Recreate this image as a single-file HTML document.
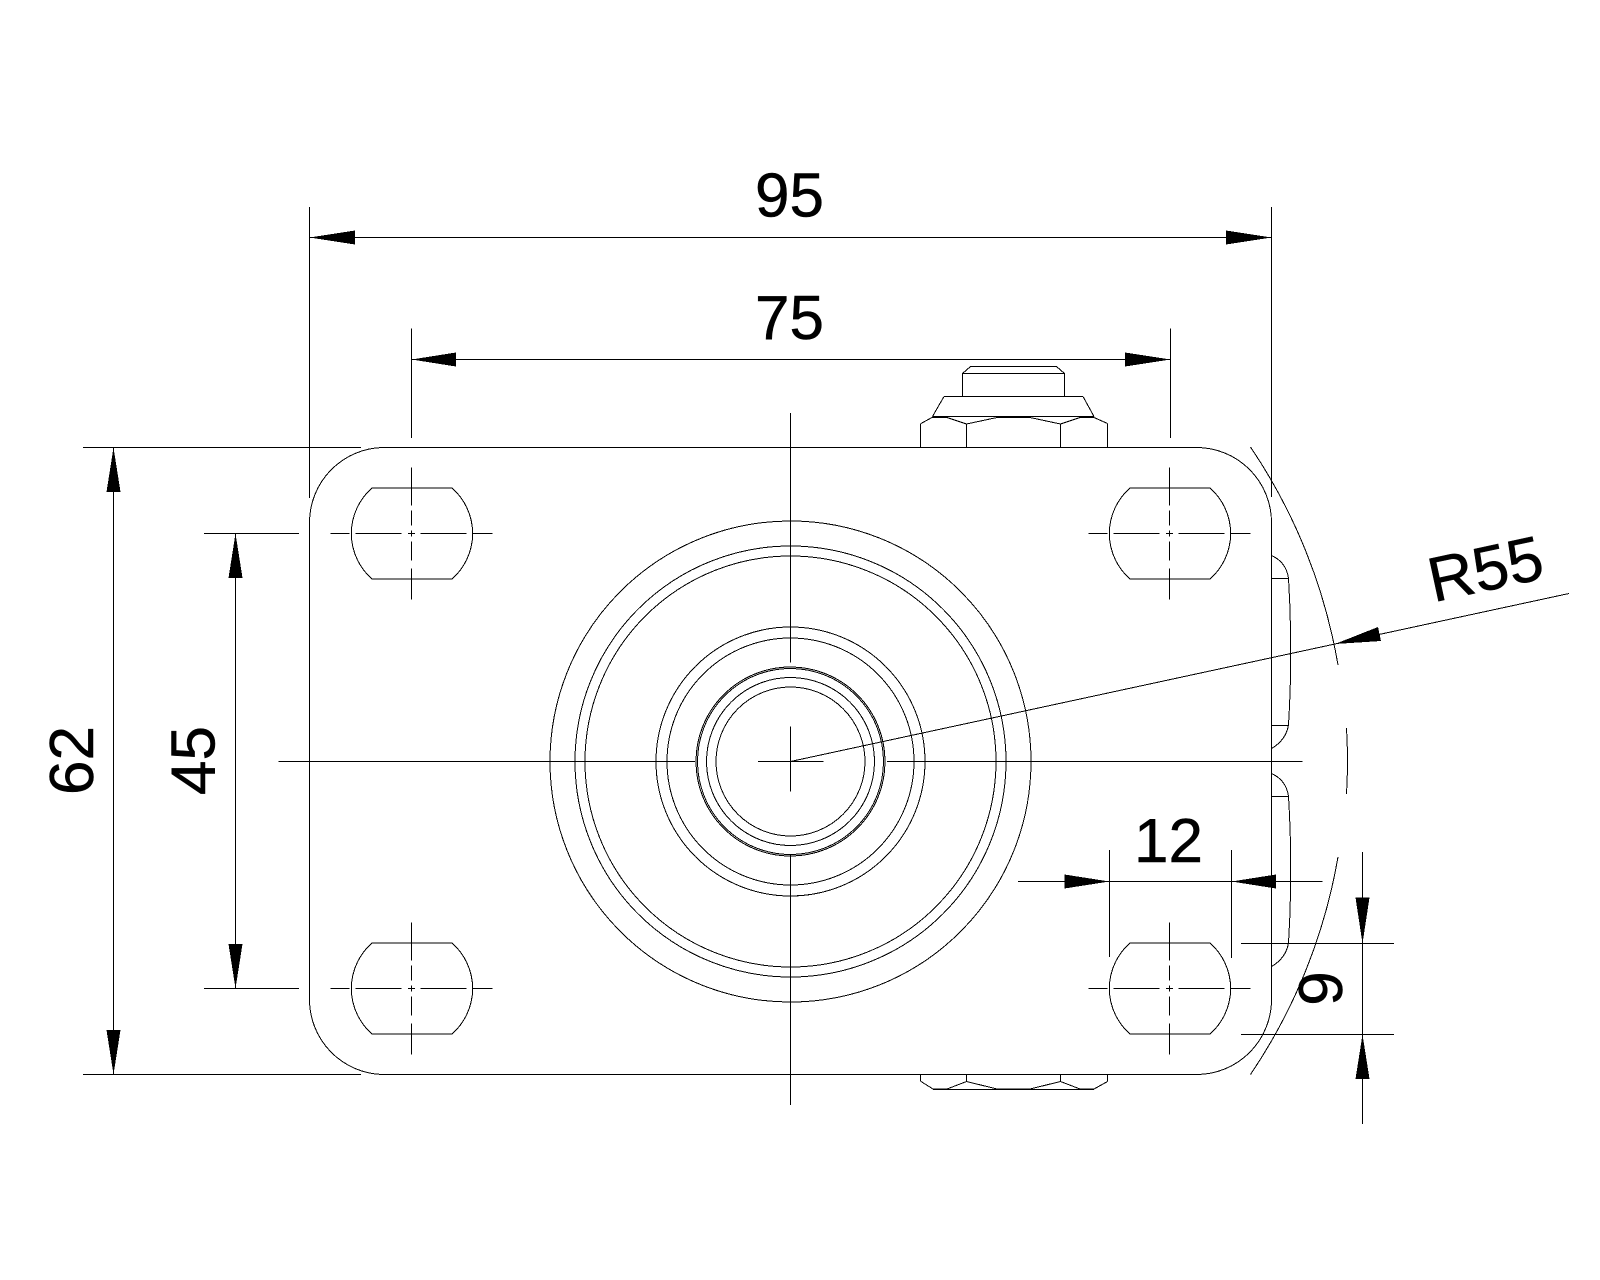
<!DOCTYPE html>
<html lang="en">
<head>
<meta charset="utf-8">
<title>Drawing</title>
<style>
html,body{margin:0;padding:0;background:#fff;width:1600px;height:1280px;overflow:hidden}
svg{display:block}
.l{fill:none;stroke:#000;stroke-width:1;shape-rendering:crispEdges}
.c{fill:none;stroke:#000;stroke-width:1;shape-rendering:crispEdges}
.a{fill:#000;stroke:none;shape-rendering:crispEdges}
text{font-family:"Liberation Sans",Arial,sans-serif;font-size:62px;fill:#000;stroke:#000;stroke-width:.5;text-anchor:middle}
</style>
</head>
<body>
<svg width="1600" height="1280" viewBox="0 0 1600 1280" xmlns="http://www.w3.org/2000/svg">
<defs>
<g id="hole">
<path class="c" d="M-39.5 -45.5H40.5M-39.5 45.5H40.5M-39.5 -45.5A60.5 60.5 0 0 0 -39.5 45.5M40.5 -45.5A60.5 60.5 0 0 1 40.5 45.5"/>
<path class="l" d="M-81 0H-62M-56 0H-10M-3.5 0H3.5M9 0H55M61 0H81M0 -66V-28M0 -23V-8M0 -3V3M0 8V27M0 35V66"/>
</g>
</defs>

<!-- plate -->
<path class="c" d="M383 447.5H1197A75 75 0 0 1 1271.5 522V999A75 75 0 0 1 1197 1074.5H383A75 75 0 0 1 309.5 999V522A75 75 0 0 1 383 447.5Z"/>

<use href="#hole" x="411.5" y="533.5"/>
<use href="#hole" x="1169.5" y="533.5"/>
<use href="#hole" x="411.5" y="988.5"/>
<use href="#hole" x="1169.5" y="988.5"/>

<!-- rings -->
<g class="c">
<circle cx="790.5" cy="761.5" r="240.5"/>
<circle cx="790.5" cy="761.5" r="215.5"/>
<circle cx="790.5" cy="761.5" r="205.5"/>
<circle cx="790.5" cy="761.5" r="134.5"/>
<circle cx="790.5" cy="761.5" r="123.5"/>
<circle cx="790.5" cy="761.5" r="94.5"/>
<circle cx="790.5" cy="761.5" r="93"/>
<circle cx="790.5" cy="761.5" r="84"/>
<circle cx="790.5" cy="761.5" r="74.5"/>
</g>

<!-- centre lines -->
<path class="l" d="M278.5 761.5H695M887 761.5H1302.5M758 761.5H823.5M790.5 413V662.5M790.5 726.5V791.5M790.5 855V1105"/>

<!-- top nut and bolt -->
<path class="l" d="M920.5 447V423.5M966.5 447V423.5M1060.5 447V423.5M1107.5 447V423.5M932.5 416.5H1094M944 396.5H1083M962.5 396.5V373.5M1064.5 396.5V373.5M962 373.5H1065M970.5 366.5H1056.5"/>
<path class="c" d="M921 423.5L932 417.5L947 417.5L966.5 424L997 417.5H1030L1060.5 424L1080 417.5H1094L1107.5 423.5M944 396.5L932.5 416.5M1083 396.5L1094 416.5M962.5 373.5L970.5 366.5M1064.5 373.5L1056.5 366.5"/>

<!-- bottom nut -->
<path class="l" d="M920.5 1074V1081.5M966.5 1074V1081.5M1060.5 1074V1081.5M1107.5 1074V1081.5M933 1089.5H1094"/>
<path class="c" d="M921 1081.5L933 1089L947 1089L966.5 1081.5L997 1089H1030L1060.5 1081.5L1080 1089H1094L1107.5 1081.5"/>

<!-- side bumps -->
<path class="l" d="M1271.5 578.5H1288.5M1271.5 725.5H1288.5M1271.5 796.5H1288.5"/>
<path class="c" d="M1271.5 555.5Q1286 562 1288.5 578Q1293 651 1288.5 725Q1286 740 1271.5 748.5M1271.5 773.5Q1286 780 1288.5 796Q1293 870 1288.5 943Q1286 958 1271.5 966.5"/>

<!-- R55 arcs -->
<path class="c" d="M1250.5 447A557 557 0 0 1 1338 665M1346.5 728A557 557 0 0 1 1346.5 794M1338 857A557 557 0 0 1 1250.5 1074.5"/>
<path class="c" d="M790.5 761.5L1569 593.5"/>
<polygon class="a" points="1335,644 1378,627 1381,641"/>

<!-- 95 -->
<path class="l" d="M309.5 207V498M1271.5 207V497M309.5 237.5H1271.5"/>
<polygon class="a" points="309.5,237.5 355,230.5 355,244.5"/>
<polygon class="a" points="1271.5,237.5 1226,230.5 1226,244.5"/>
<text x="789.5" y="216.5">95</text>

<!-- 75 -->
<path class="l" d="M411.5 328.5V438M1170.5 328.5V438M411.5 359.5H1170.5"/>
<polygon class="a" points="411.5,359.5 456,352.5 456,366.5"/>
<polygon class="a" points="1170.5,359.5 1125,352.5 1125,366.5"/>
<text x="789.5" y="339">75</text>

<!-- 62 -->
<path class="l" d="M83 447.5H361M83 1074.5H361M113.5 447.5V1074.5"/>
<polygon class="a" points="113.5,447.5 106.5,492 120.5,492"/>
<polygon class="a" points="113.5,1074.5 106.5,1030 120.5,1030"/>
<text transform="translate(93 760.5) rotate(-90)">62</text>

<!-- 45 -->
<path class="l" d="M204 533.5H299M204 988.5H299M235.5 533.5V988.5"/>
<polygon class="a" points="235.5,533.5 228.5,578 242.5,578"/>
<polygon class="a" points="235.5,988.5 228.5,944 242.5,944"/>
<text transform="translate(214.5 760.5) rotate(-90)">45</text>

<!-- 12 -->
<path class="l" d="M1109.5 850V957M1231.5 850V958M1018 881.5H1322.5"/>
<polygon class="a" points="1109.5,881.5 1064.5,874.5 1064.5,888.5"/>
<polygon class="a" points="1231.5,881.5 1276,874.5 1276,888.5"/>
<text x="1168.5" y="862">12</text>

<!-- 9 -->
<path class="l" d="M1241 943.5H1394M1241 1034.5H1394M1362.5 852V1124"/>
<polygon class="a" points="1362.5,943.5 1355.5,897.5 1369.5,897.5"/>
<polygon class="a" points="1362.5,1034.5 1355.5,1079 1369.5,1079"/>
<text transform="translate(1342 988.5) rotate(-90)">9</text>

<!-- R55 -->
<text transform="translate(1490 590) rotate(-12.2)" style="font-size:63px">R55</text>
</svg>
</body>
</html>
